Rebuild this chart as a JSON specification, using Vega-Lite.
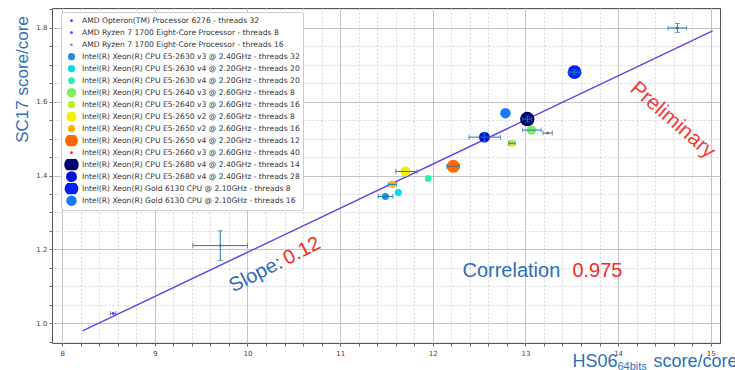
{
  "$schema": "https://vega.github.io/schema/vega-lite/v6.json",
  "width": 668,
  "height": 335,
  "autosize": {"type": "none"},
  "padding": {"left": 52, "top": 8, "right": 15, "bottom": 27},
  "background": "white",
  "resolve": {"axis": {"x": "independent", "y": "independent"}},
  "config": {
    "view": {"stroke": "#555555", "strokeWidth": 1},
    "axis": {"domain": false, "labelFont": "DejaVu Sans", "labelFontSize": 7, "labelColor": "#444444", "tickColor": "#666666", "tickSize": 3, "labelOverlap": false},
    "legend": {"labelFont": "DejaVu Sans", "labelFontSize": 7.6, "labelColor": "#333333"}
  },
  "datasets": {
    "cpus": [
      {"cpu": "AMD Opteron(TM) Processor 6276 - threads 32", "hs06": 8.55, "sc17": 1.026, "xlo": 8.52, "xhi": 8.58, "ylo": null, "yhi": null},
      {"cpu": "AMD Ryzen 7 1700 Eight-Core Processor - threads 8", "hs06": 14.64, "sc17": 1.8, "xlo": 14.54, "xhi": 14.74, "ylo": 1.788, "yhi": 1.812},
      {"cpu": "AMD Ryzen 7 1700 Eight-Core Processor - threads 16", "hs06": 9.706, "sc17": 1.21, "xlo": 9.41, "xhi": 10.0, "ylo": 1.17, "yhi": 1.25},
      {"cpu": "Intel(R) Xeon(R) CPU E5-2630 v3 @ 2.40GHz - threads 32", "hs06": 11.488, "sc17": 1.343, "xlo": 11.41, "xhi": 11.57, "ylo": null, "yhi": null},
      {"cpu": "Intel(R) Xeon(R) CPU E5-2630 v4 @ 2.20GHz - threads 20", "hs06": 11.628, "sc17": 1.354, "xlo": null, "xhi": null, "ylo": null, "yhi": null},
      {"cpu": "Intel(R) Xeon(R) CPU E5-2630 v4 @ 2.20GHz - threads 20 ", "hs06": 11.95, "sc17": 1.392, "xlo": null, "xhi": null, "ylo": null, "yhi": null},
      {"cpu": "Intel(R) Xeon(R) CPU E5-2640 v3 @ 2.60GHz - threads 8", "hs06": 13.065, "sc17": 1.523, "xlo": 12.97, "xhi": 13.17, "ylo": null, "yhi": null},
      {"cpu": "Intel(R) Xeon(R) CPU E5-2640 v3 @ 2.60GHz - threads 16", "hs06": 12.85, "sc17": 1.4875, "xlo": 12.82, "xhi": 12.89, "ylo": null, "yhi": null},
      {"cpu": "Intel(R) Xeon(R) CPU E5-2650 v2 @ 2.60GHz - threads 8", "hs06": 11.704, "sc17": 1.411, "xlo": 11.6, "xhi": 11.83, "ylo": null, "yhi": null},
      {"cpu": "Intel(R) Xeon(R) CPU E5-2650 v2 @ 2.60GHz - threads 16", "hs06": 11.564, "sc17": 1.376, "xlo": 11.52, "xhi": 11.61, "ylo": null, "yhi": null},
      {"cpu": "Intel(R) Xeon(R) CPU E5-2650 v4 @ 2.20GHz - threads 12", "hs06": 12.222, "sc17": 1.425, "xlo": 12.15, "xhi": 12.29, "ylo": null, "yhi": null},
      {"cpu": "Intel(R) Xeon(R) CPU E5-2660 v3 @ 2.60GHz - threads 40", "hs06": 13.24, "sc17": 1.515, "xlo": 13.19, "xhi": 13.29, "ylo": null, "yhi": null},
      {"cpu": "Intel(R) Xeon(R) CPU E5-2680 v4 @ 2.40GHz - threads 14", "hs06": 13.02, "sc17": 1.553, "xlo": 12.97, "xhi": 13.07, "ylo": 1.545, "yhi": 1.561},
      {"cpu": "Intel(R) Xeon(R) CPU E5-2680 v4 @ 2.40GHz - threads 28", "hs06": 12.557, "sc17": 1.504, "xlo": 12.39, "xhi": 12.73, "ylo": 1.492, "yhi": 1.516},
      {"cpu": "Intel(R) Xeon(R) Gold 6130 CPU @ 2.10GHz - threads 8", "hs06": 13.53, "sc17": 1.68, "xlo": 13.47, "xhi": 13.59, "ylo": 1.673, "yhi": 1.687},
      {"cpu": "Intel(R) Xeon(R) Gold 6130 CPU @ 2.10GHz - threads 16", "hs06": 12.784, "sc17": 1.569, "xlo": null, "xhi": null, "ylo": null, "yhi": null}
    ]
  },
  "layer": [
    {
      "data": {"values": [{"hs06": 8.22, "sc17": 0.979}, {"hs06": 15.02, "sc17": 1.792}]},
      "mark": {"type": "line", "color": "#6a40e6", "strokeWidth": 1.5},
      "encoding": {
        "x": {"field": "hs06", "type": "quantitative", "scale": {"domain": [7.89, 15.1], "nice": false, "zero": false}, "axis": null},
        "y": {"field": "sc17", "type": "quantitative", "scale": {"domain": [0.946, 1.854], "nice": false, "zero": false}, "axis": null}
      }
    },
    {
      "data": {"name": "cpus"},
      "mark": {"type": "circle", "opacity": 1},
      "encoding": {
        "x": {"field": "hs06", "type": "quantitative",
          "axis": {
            "values": [8, 8.2, 8.4, 8.6, 8.8, 9, 9.2, 9.4, 9.6, 9.8, 10, 10.2, 10.4, 10.6, 10.8, 11, 11.2, 11.4, 11.6, 11.8, 12, 12.2, 12.4, 12.6, 12.8, 13, 13.2, 13.4, 13.6, 13.8, 14, 14.2, 14.4, 14.6, 14.8, 15],
            "grid": true,
            "gridColor": {"condition": {"test": "abs(datum.value - round(datum.value)) < 0.001", "value": "#c4c4c4"}, "value": "#d6d6d6"},
            "gridDash": {"condition": {"test": "abs(datum.value - round(datum.value)) < 0.001", "value": []}, "value": [2, 2]},
            "labelExpr": "abs(datum.value - round(datum.value)) < 0.001 ? format(datum.value, 'd') : ''",
            "title": null,
            "labelPadding": 3
          }
        },
        "y": {"field": "sc17", "type": "quantitative",
          "axis": {
            "values": [0.95, 1, 1.05, 1.1, 1.15, 1.2, 1.25, 1.3, 1.35, 1.4, 1.45, 1.5, 1.55, 1.6, 1.65, 1.7, 1.75, 1.8, 1.85],
            "grid": true,
            "gridColor": {"condition": {"test": "abs(datum.value * 5 - round(datum.value * 5)) < 0.001", "value": "#c4c4c4"}, "value": "#d6d6d6"},
            "gridDash": {"condition": {"test": "abs(datum.value * 5 - round(datum.value * 5)) < 0.001", "value": []}, "value": [2, 2]},
            "labelExpr": "abs(datum.value * 5 - round(datum.value * 5)) < 0.001 ? format(datum.value, '.1f') : ''",
            "title": "SC17 score/core",
            "titleColor": "#2f6fba",
            "titleFont": "Liberation Sans",
            "titleFontSize": 17,
            "titleFontWeight": "normal",
            "titleAlign": "center",
            "titleBaseline": "alphabetic",
            "titleX": -25,
            "titleY": 71,
            "titleAngle": -90
          }
        },
        "color": {"field": "cpu", "type": "nominal",
          "scale": {
            "domain": ["AMD Opteron(TM) Processor 6276 - threads 32", "AMD Ryzen 7 1700 Eight-Core Processor - threads 8", "AMD Ryzen 7 1700 Eight-Core Processor - threads 16", "Intel(R) Xeon(R) CPU E5-2630 v3 @ 2.40GHz - threads 32", "Intel(R) Xeon(R) CPU E5-2630 v4 @ 2.20GHz - threads 20", "Intel(R) Xeon(R) CPU E5-2630 v4 @ 2.20GHz - threads 20 ", "Intel(R) Xeon(R) CPU E5-2640 v3 @ 2.60GHz - threads 8", "Intel(R) Xeon(R) CPU E5-2640 v3 @ 2.60GHz - threads 16", "Intel(R) Xeon(R) CPU E5-2650 v2 @ 2.60GHz - threads 8", "Intel(R) Xeon(R) CPU E5-2650 v2 @ 2.60GHz - threads 16", "Intel(R) Xeon(R) CPU E5-2650 v4 @ 2.20GHz - threads 12", "Intel(R) Xeon(R) CPU E5-2660 v3 @ 2.60GHz - threads 40", "Intel(R) Xeon(R) CPU E5-2680 v4 @ 2.40GHz - threads 14", "Intel(R) Xeon(R) CPU E5-2680 v4 @ 2.40GHz - threads 28", "Intel(R) Xeon(R) Gold 6130 CPU @ 2.10GHz - threads 8", "Intel(R) Xeon(R) Gold 6130 CPU @ 2.10GHz - threads 16"],
            "range": ["#4040ff", "#4848f0", "#5a80f5", "#1c8fe8", "#00dcf4", "#2af0b4", "#7cf060", "#b8f21c", "#f0f000", "#ffb300", "#ff6a00", "#ff2a20", "#000070", "#0010d8", "#0020ff", "#1878ff"]
          },
          "legend": {"orient": "none", "legendX": 9, "legendY": 4, "title": null, "fillColor": "white", "strokeColor": "#cccccc", "padding": 3, "cornerRadius": 3, "symbolType": "circle", "rowPadding": 0, "clipHeight": 11.3, "labelOffset": 3, "symbolStrokeWidth": 0, "labelLimit": 400}
        },
        "size": {"field": "cpu", "type": "nominal",
          "scale": {
            "type": "ordinal",
            "domain": ["AMD Opteron(TM) Processor 6276 - threads 32", "AMD Ryzen 7 1700 Eight-Core Processor - threads 8", "AMD Ryzen 7 1700 Eight-Core Processor - threads 16", "Intel(R) Xeon(R) CPU E5-2630 v3 @ 2.40GHz - threads 32", "Intel(R) Xeon(R) CPU E5-2630 v4 @ 2.20GHz - threads 20", "Intel(R) Xeon(R) CPU E5-2630 v4 @ 2.20GHz - threads 20 ", "Intel(R) Xeon(R) CPU E5-2640 v3 @ 2.60GHz - threads 8", "Intel(R) Xeon(R) CPU E5-2640 v3 @ 2.60GHz - threads 16", "Intel(R) Xeon(R) CPU E5-2650 v2 @ 2.60GHz - threads 8", "Intel(R) Xeon(R) CPU E5-2650 v2 @ 2.60GHz - threads 16", "Intel(R) Xeon(R) CPU E5-2650 v4 @ 2.20GHz - threads 12", "Intel(R) Xeon(R) CPU E5-2660 v3 @ 2.60GHz - threads 40", "Intel(R) Xeon(R) CPU E5-2680 v4 @ 2.40GHz - threads 14", "Intel(R) Xeon(R) CPU E5-2680 v4 @ 2.40GHz - threads 28", "Intel(R) Xeon(R) Gold 6130 CPU @ 2.10GHz - threads 8", "Intel(R) Xeon(R) Gold 6130 CPU @ 2.10GHz - threads 16"],
            "range": [8, 8, 6, 50, 50, 45, 90, 50, 100, 50, 170, 8, 210, 120, 190, 110]
          },
          "legend": {"orient": "none", "legendX": 9, "legendY": 4, "title": null}
        }
      }
    },
    {
      "data": {"name": "cpus"},
      "transform": [{"filter": "datum.xlo != null"}],
      "mark": {"type": "errorbar", "color": "#1f77b4", "thickness": 1, "ticks": {"size": 5, "color": "#1f77b4"}},
      "encoding": {
        "x": {"field": "xlo", "type": "quantitative", "axis": null},
        "x2": {"field": "xhi"},
        "y": {"field": "sc17", "type": "quantitative", "axis": null}
      }
    },
    {
      "data": {"name": "cpus"},
      "transform": [{"filter": "datum.ylo != null"}],
      "mark": {"type": "errorbar", "color": "#1f77b4", "thickness": 1, "ticks": {"size": 5, "color": "#1f77b4"}},
      "encoding": {
        "y": {"field": "ylo", "type": "quantitative", "axis": null},
        "y2": {"field": "yhi"},
        "x": {"field": "hs06", "type": "quantitative", "axis": null}
      }
    },
    {
      "data": {"values": [{"label": "Slope:", "hs06": 9.847, "sc17": 1.0826}]},
      "mark": {"type": "text", "font": "Liberation Sans", "fontSize": 20, "color": "#2f6db3", "align": "left", "baseline": "alphabetic", "angle": -27},
      "encoding": {
        "x": {"field": "hs06", "type": "quantitative", "axis": null},
        "y": {"field": "sc17", "type": "quantitative", "axis": null},
        "text": {"field": "label"}
      }
    },
    {
      "data": {"values": [{"label": "Correlation", "hs06": 12.32, "sc17": 1.126}]},
      "mark": {"type": "text", "font": "Liberation Sans", "fontSize": 20, "color": "#2f6db3", "align": "left", "baseline": "alphabetic"},
      "encoding": {
        "x": {"field": "hs06", "type": "quantitative", "axis": null},
        "y": {"field": "sc17", "type": "quantitative", "axis": null},
        "text": {"field": "label"}
      }
    },
    {
      "data": {"values": [{"label": "0.12", "hs06": 10.43, "sc17": 1.157}]},
      "mark": {"type": "text", "font": "Liberation Sans", "fontSize": 20, "color": "#f52a2a", "align": "left", "baseline": "alphabetic", "angle": -27},
      "encoding": {
        "x": {"field": "hs06", "type": "quantitative", "axis": null},
        "y": {"field": "sc17", "type": "quantitative", "axis": null},
        "text": {"field": "label"}
      }
    },
    {
      "data": {"values": [{"label": "0.975", "hs06": 13.507, "sc17": 1.126}]},
      "mark": {"type": "text", "font": "Liberation Sans", "fontSize": 20, "color": "#f52a2a", "align": "left", "baseline": "alphabetic"},
      "encoding": {
        "x": {"field": "hs06", "type": "quantitative", "axis": null},
        "y": {"field": "sc17", "type": "quantitative", "axis": null},
        "text": {"field": "label"}
      }
    },
    {
      "data": {"values": [{"label": "Preliminary", "hs06": 14.587, "sc17": 1.55}]},
      "mark": {"type": "text", "font": "Liberation Sans", "fontSize": 21, "color": "#f53a3a", "align": "center", "baseline": "middle", "angle": 41},
      "encoding": {
        "x": {"field": "hs06", "type": "quantitative", "axis": null},
        "y": {"field": "sc17", "type": "quantitative", "axis": null},
        "text": {"field": "label"}
      }
    },
    {
      "data": {"values": [{"label": "HS06", "hs06": 13.507, "sc17": 0.8815}, {"label": "score/core", "hs06": 14.382, "sc17": 0.8815}]},
      "mark": {"type": "text", "font": "Liberation Sans", "fontSize": 18, "color": "#2f6fba", "align": "left", "baseline": "alphabetic"},
      "encoding": {
        "x": {"field": "hs06", "type": "quantitative", "axis": null},
        "y": {"field": "sc17", "type": "quantitative", "axis": null},
        "text": {"field": "label"}
      }
    },
    {
      "data": {"values": [{"label": "64bits", "hs06": 13.993, "sc17": 0.8734}]},
      "mark": {"type": "text", "font": "Liberation Sans", "fontSize": 11, "color": "#2f6fba", "align": "left", "baseline": "alphabetic"},
      "encoding": {
        "x": {"field": "hs06", "type": "quantitative", "axis": null},
        "y": {"field": "sc17", "type": "quantitative", "axis": null},
        "text": {"field": "label"}
      }
    }
  ]
}
